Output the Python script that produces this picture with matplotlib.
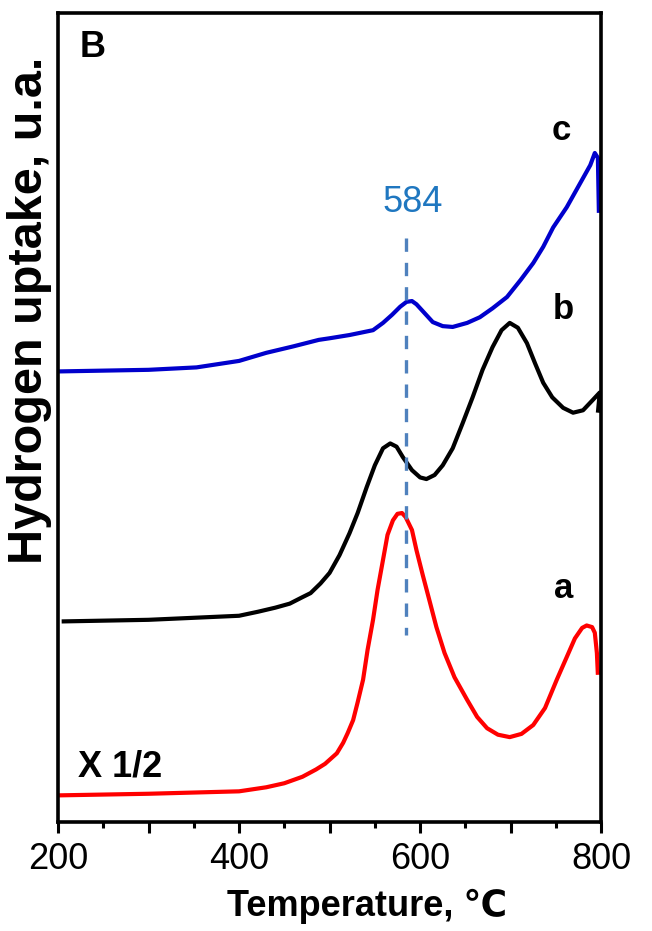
import matplotlib
matplotlib.use("Agg")
import matplotlib.pyplot as plt
from matplotlib.ticker import MultipleLocator, FuncFormatter

plt.rcParams['font.family'] = ['Liberation Sans', 'DejaVu Sans']

# TPR traces, temperature in deg C, signal in arbitrary units (curves are offset)
temp_a = [200, 300, 400, 430, 450, 470, 485, 495, 500, 508, 515, 520, 526, 531,
          537, 542, 548, 553, 559, 564, 570, 575, 580, 584, 591, 596, 603, 611,
          618, 627, 638, 652, 663, 674, 686, 699, 712, 725, 738, 751, 762, 771,
          779, 784, 790, 793, 795.3, 796.4]
sig_a = [3.3, 3.5, 3.8, 4.3, 4.8, 5.6, 6.5, 7.2, 7.7, 8.5, 9.8, 11.0, 12.6, 14.8,
         17.6, 21.3, 25.0, 28.7, 32.4, 35.5, 37.3, 38.1, 38.2, 37.7, 36.1, 33.6, 30.5, 27.1,
         24.1, 20.9, 17.9, 15.1, 13.0, 11.6, 10.8, 10.5, 10.9, 12.0, 14.1, 17.6, 20.4, 22.7,
         24.0, 24.3, 24.1, 23.4, 20.9, 18.2]

temp_b = [204, 300, 400, 421, 440, 456, 470, 479, 490, 500, 511, 522, 531, 541,
          550, 559, 567, 574, 581, 591, 600, 607, 616, 625, 636, 647, 658, 669,
          680, 690, 699, 708, 718, 727, 736, 746, 758, 769, 780, 791, 798.5, 796.4]
sig_b = [24.8, 25.0, 25.5, 26.0, 26.5, 27.0, 27.8, 28.3, 29.5, 30.8, 33.0, 35.7, 38.2, 41.4,
         44.1, 46.2, 46.8, 46.4, 45.1, 43.5, 42.6, 42.4, 42.9, 44.1, 46.2, 49.3, 52.5, 55.9,
         58.7, 60.8, 61.7, 61.1, 59.2, 56.7, 54.3, 52.5, 51.2, 50.6, 50.9, 52.2, 53.1, 50.6]

temp_c = [200, 300, 353, 400, 430, 460, 488, 500, 522, 548, 559, 569, 578, 585,
          591, 596, 605, 614, 625, 636, 652, 666, 680, 696, 711, 725, 736, 747,
          762, 777, 788, 793, 796.4, 797.5]
sig_c = [55.7, 55.9, 56.2, 57.0, 58.0, 58.8, 59.6, 59.8, 60.2, 60.8, 61.7, 62.7, 63.7, 64.3,
         64.4, 64.0, 62.9, 61.8, 61.3, 61.2, 61.7, 62.4, 63.5, 64.9, 67.0, 69.1, 71.1, 73.5,
         76.0, 79.0, 81.2, 82.7, 82.1, 75.3]

peak_temp = 584
peak_line_span = (72.2, 23.1)   # drawn top-down so the dashes start full at the top

fig = plt.figure(figsize=(6.52, 9.31), dpi=100)
ax = fig.add_axes([0.089, 0.117, 0.833, 0.869])

ax.plot(temp_a, sig_a, color='#FF0000', lw=3.0, solid_capstyle='butt')
ax.plot(temp_b, sig_b, color='black', lw=3.0, solid_capstyle='butt')
ax.plot(temp_c, sig_c, color='#0000CC', lw=3.0, solid_capstyle='butt')

ax.plot([peak_temp, peak_temp], peak_line_span, color='#4F81BD', lw=2.4,
        linestyle=(0, (4.0, 3.3)))
ax.text(peak_temp + 8, 76.6, str(peak_temp), color='#1F77C0', fontsize=26,
        ha='center', va='center')

ax.text(756, 85.5, 'c', fontsize=25, fontweight='bold', ha='center', va='center')
ax.text(758, 63.3, 'b', fontsize=25, fontweight='bold', ha='center', va='center')
ax.text(758, 28.9, 'a', fontsize=25, fontweight='bold', ha='center', va='center')
ax.text(269, 6.8, 'X 1/2', fontsize=26, fontweight='bold', ha='center', va='center')
ax.text(0.063, 0.958, 'B', transform=ax.transAxes, fontsize=26, fontweight='bold',
        ha='center', va='center')

ax.set_xlim(200, 800)
ax.set_ylim(0, 100)

ax.xaxis.set_major_locator(MultipleLocator(100))
ax.xaxis.set_minor_locator(MultipleLocator(50))
ax.xaxis.set_major_formatter(FuncFormatter(lambda v, p: f"{v:.0f}" if v % 200 == 0 else ""))
ax.tick_params(axis='x', which='major', direction='out', length=8, width=2.2,
               labelsize=26, pad=6)
ax.tick_params(axis='x', which='minor', direction='out', length=4, width=2.2)
ax.set_yticks([])

for side in ax.spines.values():
    side.set_linewidth(2.6)

ax.set_xlabel('Temperature, ℃', fontsize=26, fontweight='bold')
ax.xaxis.set_label_coords(0.569, -0.082)
ax.set_ylabel('Hydrogen uptake, u.a.', fontsize=35, fontweight='bold')
ax.yaxis.set_label_coords(-0.012, 0.633)

fig.savefig('out.png', dpi=100)
